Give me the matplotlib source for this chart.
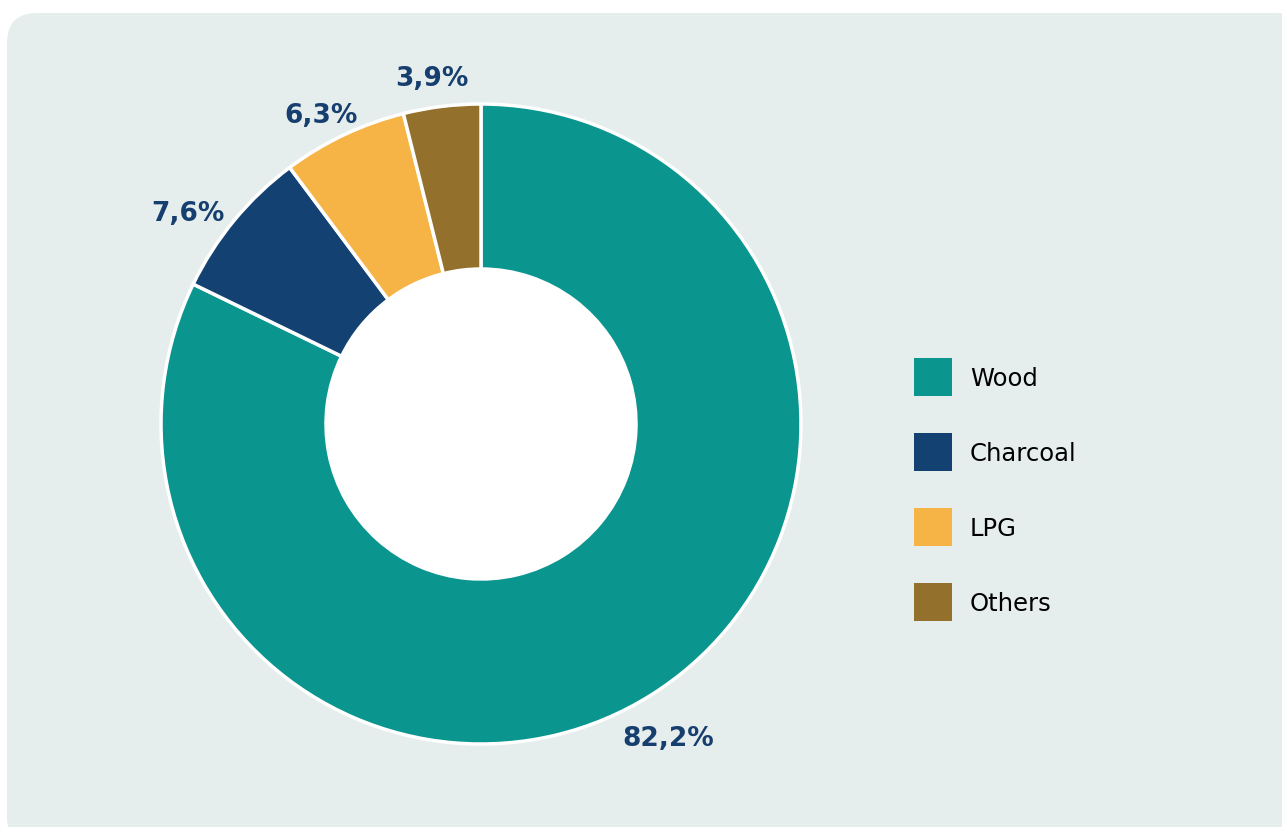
import numpy as np
import matplotlib.pyplot as plt
from matplotlib.patches import FancyBboxPatch, Circle, Patch

categories = ['Wood', 'Charcoal', 'LPG', 'Others']
shares = [82.2, 7.6, 6.3, 3.9]
share_labels = ['82,2%', '7,6%', '6,3%', '3,9%']
colors = ['#0A968F', '#134172', '#F5B445', '#94702D']

W, H = 1282, 828
fig = plt.figure(figsize=(W / 100, H / 100), dpi=100)
fig.patch.set_facecolor('white')
ax = fig.add_axes([0, 0, 1, 1])

# rounded panel behind everything
panel = FancyBboxPatch((7, -20), 1300, 814 + 20, boxstyle='round,pad=0,rounding_size=30',
                       facecolor='#E5EEED', edgecolor='none', zorder=0)
ax.add_patch(panel)

cx, cy, r_out, r_in = 481, H - 425, 320, 155
wedges, texts = ax.pie(shares, labels=share_labels, colors=colors, startangle=90,
                       counterclock=False, radius=r_out, center=(cx, cy),
                       labeldistance=1.12, frame=True,
                       wedgeprops=dict(width=r_out - r_in, edgecolor='white', linewidth=2.5),
                       textprops=dict(color='#163E6E', fontsize=19, fontweight='bold'))
# small nudges so the labels sit like in the original
nudges = [(-3, -10), (-17, -17), (-6, -15), (-5, -10)]
for t, (dx, dy) in zip(texts, nudges):
    x, y = t.get_position()
    t.set_position((x + dx, y + dy))
    t.set_ha('center')
    t.set_va('center')
ax.add_patch(Circle((cx, cy), r_in - 1, facecolor='white', edgecolor='none', zorder=3))

handles = [Patch(facecolor=c, edgecolor='none', label=n) for c, n in zip(colors, categories)]
leg = ax.legend(handles=handles, loc='upper left', bbox_to_anchor=(914 / W, 1 - 359 / H),
                frameon=False, fontsize=17.5, handlelength=1.56, handleheight=2.02,
                handletextpad=0.74, labelspacing=1.53, borderpad=0, borderaxespad=0)

ax.set_xlim(0, W)
ax.set_ylim(0, H)
ax.set_aspect('equal')
ax.axis('off')

fig.savefig('out.png', dpi=100)
